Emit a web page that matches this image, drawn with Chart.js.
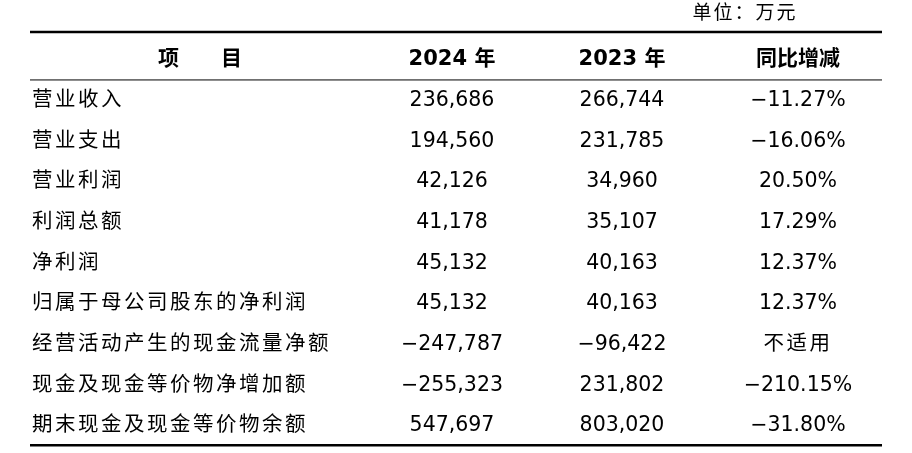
<!DOCTYPE html>
<html>
<head>
<meta charset="utf-8">
<script src="https://cdn.jsdelivr.net/npm/chart.js@4/dist/chart.umd.min.js"></script>
<style>
  html, body { margin: 0; padding: 0; background: #fff; }
  #wrap { width: 912px; height: 453px; }
</style>
</head>
<body>
<div id="wrap"><canvas id="tbl"></canvas></div>
<script>
const unitLabel = "单位：万元";
const headers = ["项　　目", "2024 年", "2023 年", "同比增减"];
const items = ["营业收入", "营业支出", "营业利润", "利润总额", "净利润",
  "归属于母公司股东的净利润", "经营活动产生的现金流量净额",
  "现金及现金等价物净增加额", "期末现金及现金等价物余额"];
const values2024 = ["236,686", "194,560", "42,126", "41,178", "45,132", "45,132", "−247,787", "−255,323", "547,697"];
const values2023 = ["266,744", "231,785", "34,960", "35,107", "40,163", "40,163", "−96,422", "231,802", "803,020"];
const changes = ["−11.27%", "−16.06%", "20.50%", "17.29%", "12.37%", "12.37%", "不适用", "−210.15%", "−31.80%"];

// layout (pixels along the hidden x scale)
const COL_X = [200, 452, 622, 798];
const FONT = '"DejaVu Sans", "Noto Sans CJK SC", sans-serif';

// one point per cell: x = column position, y = row index (0 = header)
const cells = [];
headers.forEach((h, c) => cells.push({ x: COL_X[c], y: 0, text: h, head: true, col: c }));
items.forEach((name, r) => {
  cells.push({ x: 32, y: r + 1, text: name, col: 0 });
  cells.push({ x: COL_X[1], y: r + 1, text: values2024[r], col: 1 });
  cells.push({ x: COL_X[2], y: r + 1, text: values2023[r], col: 2 });
  cells.push({ x: COL_X[3], y: r + 1, text: changes[r], col: 3 });
});

const tablePlugin = {
  id: "tableText",
  afterDatasetsDraw(chart) {
    const ctx = chart.ctx;
    const xs = chart.scales.x, ys = chart.scales.y;
    ctx.save();
    ctx.fillStyle = "#000";
    ctx.textBaseline = "middle";
    chart.getDatasetMeta(0).data.forEach((pt, i) => {
      const c = cells[i];
      const cjk = /[\u4e00-\u9fff]/.test(c.text) && !/\d/.test(c.text);
      ctx.font = (c.head ? "bold " : "") + (c.head ? "21px " : "20.5px ") + FONT;
      ctx.letterSpacing = cjk && !c.head ? "2.5px" : "0px";
      ctx.textAlign = (c.col === 0 && !c.head) ? "left" : "center";
      ctx.fillText(c.text, pt.x, pt.y);
    });
    // unit label
    ctx.font = "19px " + FONT;
    ctx.letterSpacing = "2px";
    ctx.textAlign = "center";
    ctx.fillText(unitLabel, 745, ys.getPixelForValue(-1.13));
    ctx.letterSpacing = "0px";
    // rules
    const left = xs.getPixelForValue(30), right = xs.getPixelForValue(882);
    const rule = (v, w) => {
      const y = ys.getPixelForValue(v);
      ctx.lineWidth = w;
      ctx.beginPath(); ctx.moveTo(left, y); ctx.lineTo(right, y); ctx.stroke();
    };
    ctx.strokeStyle = "#000";
    rule(-0.69, 2.5);
    rule(0.49, 1);
    rule(9.47, 2.5);
    ctx.restore();
  }
};

new Chart(document.getElementById("tbl"), {
  type: "scatter",
  data: { datasets: [{ data: cells, pointRadius: 0, pointHoverRadius: 0 }] },
  options: {
    responsive: true,
    maintainAspectRatio: false,
    animation: false,
    layout: { padding: 0 },
    plugins: { legend: { display: false }, tooltip: { enabled: false } },
    scales: {
      x: { type: "linear", min: 0, max: 912, display: false },
      y: { type: "linear", min: -1.475, max: 9.66, reverse: true, display: false }
    }
  },
  plugins: [tablePlugin]
});
</script>
</body>
</html>
